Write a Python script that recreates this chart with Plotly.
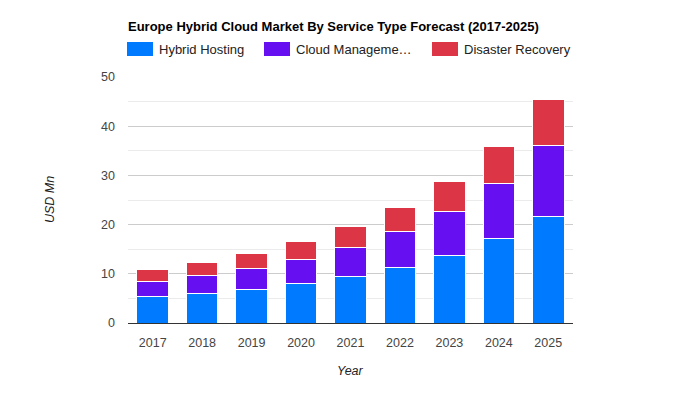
import plotly.graph_objects as go

years = ["2017", "2018", "2019", "2020", "2021", "2022", "2023", "2024", "2025"]
hybrid_hosting = [5.35, 6.0, 6.8, 8.1, 9.5, 11.3, 13.8, 17.2, 21.7]
cloud_management = [3.05, 3.6, 4.2, 4.8, 5.9, 7.3, 8.9, 11.2, 14.4]
disaster_recovery = [2.4, 2.6, 3.2, 3.6, 4.2, 4.8, 6.0, 7.4, 9.4]
series_names = ["Hybrid Hosting", "Cloud Manageme…", "Disaster Recovery"]
colors = ["#007bff", "#6610f2", "#dc3545"]

FONT = "Liberation Sans, Arial, sans-serif"

fig = go.Figure()
for name, vals, col in zip(series_names, [hybrid_hosting, cloud_management, disaster_recovery], colors):
    fig.add_trace(go.Bar(x=years, y=vals, name=name, marker=dict(color=col, line=dict(color="white", width=1)),
                         showlegend=False))

OFF = 8  # page body margin
W, H = 700, 400
plot_left, plot_right, plot_top, plot_bottom = 128, 573, 77, 323
L = plot_left - OFF
T = plot_top - OFF
pw, ph = plot_right - plot_left, plot_bottom - plot_top
R = W - L - pw
B = H - T - ph

def px(x):
    return (x - plot_left) / pw

def py(y):
    return (plot_bottom - y) / ph

shapes = []
annotations = []
legend_x = [127, 264, 432]
for name, col, lx in zip(series_names, colors, legend_x):
    shapes.append(dict(type="rect", xref="paper", yref="paper", x0=px(lx), x1=px(lx + 26),
                       y0=py(56), y1=py(42), fillcolor=col, line=dict(width=0)))
    annotations.append(dict(xref="paper", yref="paper", x=px(lx + 30), y=py(49), text=name,
                            showarrow=False, xanchor="left", yanchor="middle",
                            font=dict(family=FONT, size=13, color="#222")))

annotations.append(dict(xref="paper", yref="paper", x=px(126), y=py(27),
                        text="<b>Europe Hybrid Cloud Market By Service Type Forecast (2017-2025)</b>",
                        showarrow=False, xanchor="left", yanchor="middle",
                        font=dict(family=FONT, size=13, color="#000")))
annotations.append(dict(xref="paper", yref="paper", x=px(50), y=0.5, text="<i>USD Mn</i>",
                        showarrow=False, textangle=-90, xanchor="center", yanchor="middle",
                        font=dict(family=FONT, size=12.5, color="#222")))
annotations.append(dict(xref="paper", yref="paper", x=0.5, y=py(371), text="<i>Year</i>",
                        showarrow=False, xanchor="center", yanchor="middle",
                        font=dict(family=FONT, size=12.5, color="#222")))

fig.update_layout(
    barmode="stack",
    bargap=0.36,
    width=W, height=H,
    margin=dict(l=L, r=R, t=T, b=B, autoexpand=False),
    plot_bgcolor="white", paper_bgcolor="white",
    font=dict(family=FONT, size=12.5, color="#444"),
    shapes=shapes,
    annotations=annotations,
    xaxis=dict(showline=True, linecolor="#333", linewidth=1, showgrid=False, ticks="",
               ticklabelstandoff=8, tickfont=dict(family=FONT, size=12.5, color="#444")),
    yaxis=dict(range=[0, 50], dtick=10, showgrid=True, gridcolor="#cccccc", gridwidth=1,
               zeroline=False, showline=False, ticks="", ticklabelstandoff=12,
               tickfont=dict(family=FONT, size=12.5, color="#444"),
               minor=dict(dtick=5, showgrid=True, gridcolor="#ebebeb", gridwidth=1)),
)

fig.write_html("out.html")
